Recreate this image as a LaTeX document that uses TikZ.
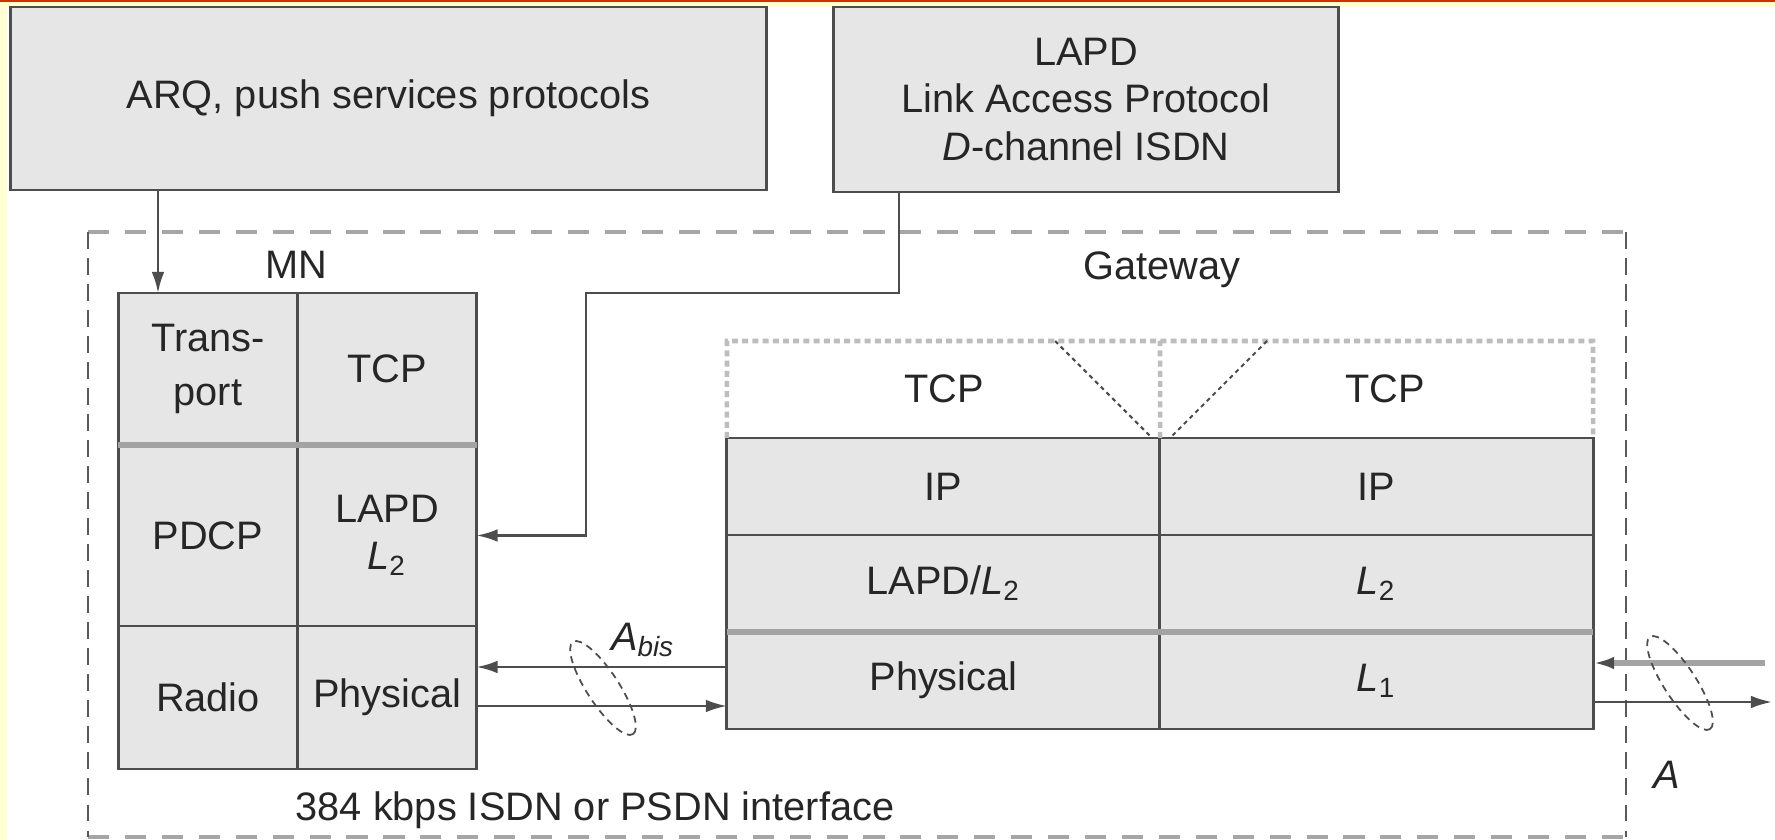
\documentclass[tikz,border=0pt]{standalone}
\usepackage{fontspec}
\setmainfont{Liberation Sans}
\usetikzlibrary{arrows.meta,shapes.geometric}
\definecolor{boxgray}{HTML}{E6E6E6}
\definecolor{linegray}{HTML}{4D4D4D}
\definecolor{thickgray}{HTML}{A3A3A3}
\definecolor{lightgray}{HTML}{BDBDBD}
\definecolor{bgyellow}{HTML}{FFFFD2}
\definecolor{topred}{HTML}{CC3300}

\begin{document}
\begin{tikzpicture}[x=0.01cm, y=-0.01cm,
        font=\fontsize{11.3}{13.5}\selectfont, text=black!85,
        box/.style = {draw=linegray, line width=0.8pt, fill=boxgray, inner sep=0pt, outer sep=0pt, align=center},
        mncell/.style = {box, minimum width=1.79cm},
        gwcell/.style = {box, minimum width=4.33cm, minimum height=0.97cm},
        thickline/.style = {draw=thickgray, line width=1.5pt},
        arrow/.style = {draw=linegray, line width=0.7pt, -{Latex[length=6pt,width=3.6pt]}},
        greyarrow/.style = {draw=thickgray, line width=1.5pt, -{Latex[length=6pt,width=3.6pt,color=linegray]}},
        framedash/.style = {draw=gray!70, line width=1pt, dash pattern=on 6pt off 4.5pt},
        sidedash/.style = {draw=black!65, line width=0.6pt, dash pattern=on 4.8pt off 2.6pt},
        lightdash/.style = {draw=lightgray, line width=1.3pt, dash pattern=on 1.7pt off 1.2pt},
        vdash/.style = {draw=black!70, line width=0.6pt, dash pattern=on 1.2pt off 1.1pt},
        ring/.style = {ellipse, draw=linegray, line width=0.5pt, dash pattern=on 2pt off 1.5pt,
                       minimum width=1.1cm, minimum height=0.32cm, inner sep=0pt, rotate=-57}]
    \useasboundingbox (0,0) rectangle (1775,840);
    \fill[bgyellow] (0,0) rectangle (1775,840);
    \fill[white] (7,7) rectangle (1775,840);
    \fill[topred] (0,0) rectangle (1775,2.5);

    % protocols on top
    \node[box, minimum width=7.55cm, minimum height=1.83cm] (arq)  at (388.5,98.5) {ARQ, push services protocols};
    \node[box, minimum width=5.04cm, minimum height=1.85cm] (lapd) at (1086,99.5)  {LAPD\\Link Access Protocol\\\textit{D}-channel ISDN};

    % frame
    \draw[framedash] (88,232) -- (1626,232);
    \draw[framedash] (88,837) -- (1626,837);
    \draw[sidedash]  (88,232) -- (88,837);
    \draw[sidedash]  (1626,232) -- (1626,837);

    % MN stack
    \node (mnlab) at (296,265) {MN};
    \node[mncell, minimum height=1.52cm] (trans)  at (208,369)   {Trans-\\[2pt]port};
    \node[mncell, minimum height=1.52cm] (mntcp)  at (387,369)   {TCP};
    \node[mncell, minimum height=1.81cm] (pdcp)   at (208,535.5) {PDCP};
    \node[mncell, minimum height=1.81cm] (mnlapd) at (387,535.5) {LAPD\\\textit{L}\textsubscript{2}};
    \node[mncell, minimum height=1.43cm] (radio)  at (208,697.5) {Radio};
    \node[mncell, minimum height=1.43cm] (mnphys) at (387,697.5) {Physical};
    \draw[thickline] (trans.south west) -- (mntcp.south east);

    % gateway stack
    \node (gwlab) at (1162,270) {Gateway};
    \node (gtcpl) at (944,389)  {TCP};
    \node (gtcpr) at (1385,389) {TCP};
    \node[gwcell] (gipl)  at (943.5,486.5)  {IP};
    \node[gwcell] (gipr)  at (1376.5,486.5) {IP};
    \node[gwcell] (glapd) at (943.5,583.5)  {LAPD/\textit{L}\textsubscript{2}};
    \node[gwcell] (gl2)   at (1376.5,583.5) {\textit{L}\textsubscript{2}};
    \node[gwcell] (gphys) at (943.5,680.5)  {Physical};
    \node[gwcell] (gl1)   at (1376.5,680.5) {\textit{L}\textsubscript{1}};
    \draw[thickline] (glapd.south west) -- (gl2.south east);
    \draw[lightdash] (gipl.north west) -- (727,341) -- (1593,341) -- (gipr.north east);
    \draw[lightdash] (gipl.north east) -- (1160,341);
    \draw[vdash] (1055,341) -- (1152,438);
    \draw[vdash] (1267,341) -- (1170,438);

    % connectors
    \draw[arrow] (arq.south -| 158,0) -- (trans.north -| 158,0);
    \draw[arrow] (lapd.south -| 899,0) |- (586,293) |- (mnlapd.east);
    \draw[arrow] (gphys.west |- 0,667) -- (mnphys.east |- 0,667);
    \draw[arrow] (mnphys.east |- 0,706) -- (gphys.west |- 0,706);
    \coordinate (ain)  at (1765,663);
    \coordinate (aout) at (1772,702);
    \draw[greyarrow] (ain) -- (gl1.east |- ain);
    \draw[arrow] (gl1.east |- aout) -- (aout);

    % interfaces
    \node[ring] (abis) at (603,688) {};
    \node[ring] (aif)  at (1680,683) {};
    \node (abislab) at (643,640) {\textit{A}\textsubscript{\textit{bis}}};
    \node (alab)    at (1667,775) {\textit{A}};
    \node (iflab)   at (595,810) {384 kbps ISDN or PSDN interface};
\end{tikzpicture}
\end{document}
